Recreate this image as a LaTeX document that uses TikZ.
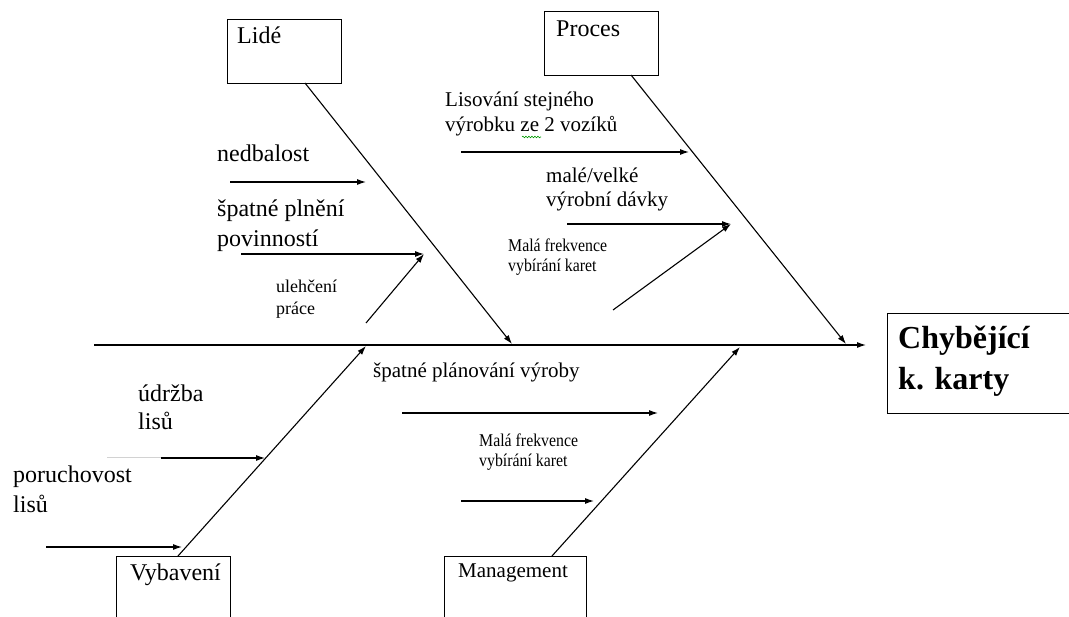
\documentclass[tikz,border=0pt]{standalone}
\usepackage{fontspec}
\setmainfont{Liberation Serif}
\usetikzlibrary{arrows.meta,decorations.pathmorphing}
\begin{document}
\begin{tikzpicture}[x=1pt,y=-1pt,
  box/.style={draw, line width=1.2pt, inner sep=0pt, anchor=north west},
  bone/.style={line width=1.1pt, -{Latex[length=9pt,width=6pt]}},
  txt/.style={inner sep=0pt, anchor=base west},
  big/.style={txt, font=\fontsize{24}{28}\selectfont},
  mid/.style={txt, font=\fontsize{21}{25}\selectfont},
  sml/.style={txt, font=\fontsize{18}{21}\selectfont},
  eff/.style={txt, font=\fontsize{32}{38}\selectfont\bfseries}]
\clip (0,0) rectangle (1069,617);
\useasboundingbox (0,0) rectangle (1069,617);

% category boxes and the effect box
\node[box, minimum width=114, minimum height=64] (lide) at (227,19) {};
\node[box, minimum width=114, minimum height=64] (proces) at (544,11) {};
\node[box, minimum width=114, minimum height=100] (vyb) at (116,556) {};
\node[box, minimum width=142, minimum height=100] (mgmt) at (444,556) {};
\node[box, minimum width=200, minimum height=100] (effect) at (887,313) {};

\node[big] (tLide) at (237,44) {Lidé};
\node[big] (tProces) at (556,37) {Proces};
\node[big] (tVyb) at (130,580) {Vybavení};
\node[mid] (tMgmt) at (458,577) {Management};
\node[eff] (tEff1) at (898,349) {Chybějící};
\node[eff] (tEff2) at (898,390) {k. karty};

% spine
\coordinate (tail) at (94,345);
\coordinate (head) at (866,345);
\draw[bone] (tail) -- (head);

% main bones
\coordinate (lideFoot) at (305,83);
\coordinate (lideTip) at (512,344);
\coordinate (procFoot) at (631,75);
\coordinate (procTip) at (846,344);
\coordinate (vybFoot) at (178,556);
\coordinate (vybTip) at (366,346);
\coordinate (mgmtFoot) at (552,556);
\coordinate (mgmtTip) at (740,347);
\draw[bone] (lideFoot) -- (lideTip);
\draw[bone] (procFoot) -- (procTip);
\draw[bone] (vybFoot) -- (vybTip);
\draw[bone] (mgmtFoot) -- (mgmtTip);

% Lidé causes
\node[big] (c1) at (217,162) {nedbalost};
\node[big] (c2a) at (217,217) {špatné plnění};
\node[big] (c2b) at (217,247) {povinností};
\node[sml] (c3a) at (276,293) {ulehčení};
\node[sml] (c3b) at (276,315) {práce};
\coordinate (a1s) at (230,182); \coordinate (a1e) at (366,182);
\coordinate (a2s) at (241,254); \coordinate (a2e) at (424,254);
\coordinate (a3s) at (366,323);
\draw[bone] (a1s) -- (a1e);
\draw[bone] (a2s) -- (a2e);
\draw[bone] (a3s) -- (a2e);

% Proces causes
\node[mid] (p1a) at (445,107) {Lisování stejného};
\node[mid] (p1b) at (445,132) {výrobku ze 2 vozíků};
\draw[green!60!black, line width=0.6pt, decorate,
  decoration={snake, amplitude=0.8pt, segment length=3pt}] (522,137) -- (541,137);
\node[mid] (p2a) at (546,183) {malé/velké};
\node[mid] (p2b) at (546,207) {výrobní dávky};
\node[sml] (p3a) at (508,252) {\scalebox{0.88}[1]{Malá frekvence}};
\node[sml] (p3b) at (508,272) {\scalebox{0.88}[1]{vybírání karet}};
\coordinate (b1s) at (461,152); \coordinate (b1e) at (689,152);
\coordinate (b2s) at (567,224); \coordinate (b2e) at (731,224);
\coordinate (b3s) at (613,310);
\draw[bone] (b1s) -- (b1e);
\draw[bone] (b2s) -- (b2e);
\draw[bone] (b3s) -- (b2e);

% Vybavení causes
\node[big] (v1a) at (138,402) {údržba};
\node[big] (v1b) at (138,430) {lisů};
\node[big] (v2a) at (13,483) {poruchovost};
\node[big] (v2b) at (13,513) {lisů};
\coordinate (d0) at (107,458);
\coordinate (d1s) at (161,458); \coordinate (d1e) at (265,458);
\coordinate (d2s) at (46,547); \coordinate (d2e) at (182,547);
\draw[gray!35, line width=1pt] (d0) -- (d1s);
\draw[bone] (d1s) -- (d1e);
\draw[bone] (d2s) -- (d2e);

% Management causes
\node[mid] (m1) at (373,378) {špatné plánování výroby};
\node[sml] (m2a) at (479,447) {\scalebox{0.88}[1]{Malá frekvence}};
\node[sml] (m2b) at (479,467) {\scalebox{0.88}[1]{vybírání karet}};
\coordinate (e1s) at (402,413); \coordinate (e1e) at (658,413);
\coordinate (e2s) at (461,501); \coordinate (e2e) at (594,501);
\draw[bone] (e1s) -- (e1e);
\draw[bone] (e2s) -- (e2e);
\end{tikzpicture}
\end{document}
